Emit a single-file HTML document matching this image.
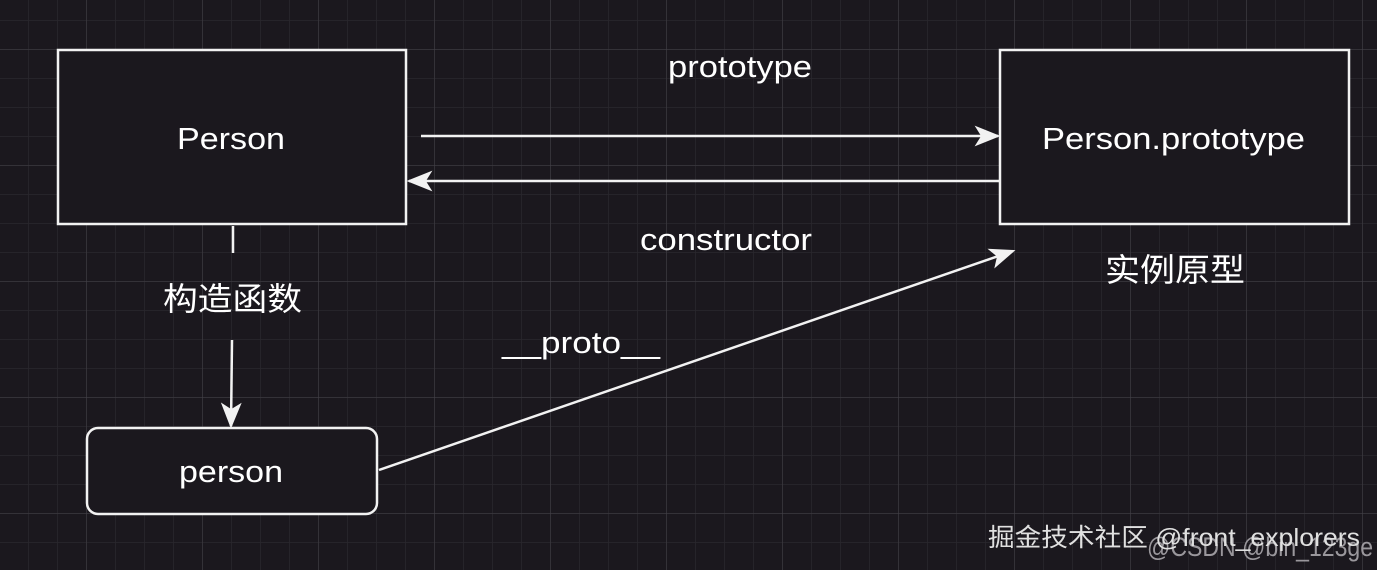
<!DOCTYPE html>
<html><head><meta charset="utf-8"><style>
html,body{margin:0;padding:0;background:#1b181e;}
svg{display:block}
text{font-family:"Liberation Sans","Noto Sans CJK SC",sans-serif;fill:#fff}
</style></head><body>
<svg width="1377" height="570" viewBox="0 0 1377 570" xmlns="http://www.w3.org/2000/svg">
<defs>
<pattern id="minor" x="86" y="49" width="29" height="29" patternUnits="userSpaceOnUse">
<path d="M0 0H29M0 0V29" stroke="#2a272d" stroke-width="1.5" fill="none"/>
</pattern>
<pattern id="major" x="86" y="49" width="116" height="116" patternUnits="userSpaceOnUse">
<path d="M0 0H116M0 0V116" stroke="#46434a" stroke-width="1" fill="none"/>
</pattern>
<marker id="ah" viewBox="0 0 20 20" refX="18" refY="10" markerWidth="26" markerHeight="26" markerUnits="userSpaceOnUse" orient="auto">
<path d="M0 2 L20 10 L0 18 L5 10 Z" fill="#f2f2f2"/>
</marker>
</defs>
<rect width="1377" height="570" fill="#1b181e"/>
<rect width="1377" height="570" fill="url(#minor)"/>
<rect width="1377" height="570" fill="url(#major)"/>

<rect x="58" y="50" width="348" height="174" fill="#1b181e" stroke="#f2f2f2" stroke-width="2.5"/>
<text x="177" y="149" font-size="31" textLength="108" lengthAdjust="spacingAndGlyphs">Person</text>

<rect x="1000" y="50" width="349" height="174" fill="#1b181e" stroke="#f2f2f2" stroke-width="2.5"/>
<text x="1042" y="149" font-size="31" textLength="263" lengthAdjust="spacingAndGlyphs">Person.prototype</text>

<rect x="87" y="428" width="290" height="86" rx="11" fill="#1b181e" stroke="#f2f2f2" stroke-width="2.5"/>
<text x="179" y="482" font-size="31" textLength="104" lengthAdjust="spacingAndGlyphs">person</text>

<line x1="421" y1="136" x2="998" y2="136" stroke="#f2f2f2" stroke-width="2.5" marker-end="url(#ah)"/>
<line x1="1000" y1="181" x2="409" y2="181" stroke="#f2f2f2" stroke-width="2.5" marker-end="url(#ah)"/>
<line x1="233" y1="226" x2="233" y2="253" stroke="#f2f2f2" stroke-width="2.5"/>
<line x1="232" y1="340" x2="231" y2="426" stroke="#f2f2f2" stroke-width="2.5" marker-end="url(#ah)"/>
<line x1="379" y1="470" x2="1013" y2="251" stroke="#f2f2f2" stroke-width="2.5" marker-end="url(#ah)"/>

<text x="668" y="77" font-size="31" textLength="144" lengthAdjust="spacingAndGlyphs">prototype</text>
<text x="640" y="250" font-size="31" textLength="172" lengthAdjust="spacingAndGlyphs">constructor</text>
<text x="1105" y="281" font-size="32" textLength="140" lengthAdjust="spacingAndGlyphs">实例原型</text>
<text x="163" y="310" font-size="32" textLength="139" lengthAdjust="spacingAndGlyphs">构造函数</text>
<text x="502" y="353" font-size="31" textLength="158" lengthAdjust="spacingAndGlyphs">__proto__</text>

<text x="1147" y="556" font-size="27" textLength="226" lengthAdjust="spacingAndGlyphs" style="fill:#9a979c">@CSDN @bin_123ge</text>
<text x="988" y="546" font-size="25" textLength="372" lengthAdjust="spacingAndGlyphs" style="fill:#e0e0e0">掘金技术社区 @front_explorers</text>
</svg>
</body></html>
